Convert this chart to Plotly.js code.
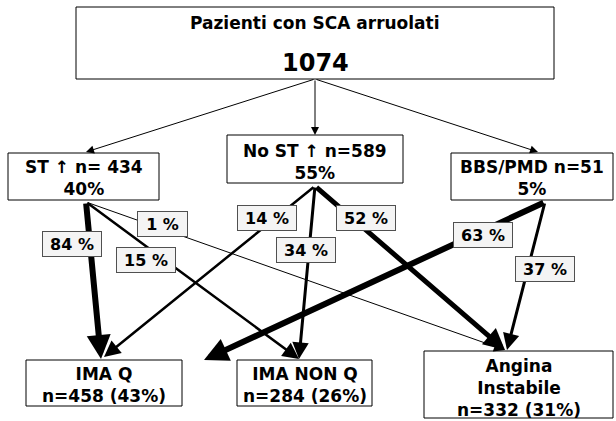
<!DOCTYPE html>
<html>
<head>
<meta charset="utf-8">
<script src="https://cdn.plot.ly/plotly-3.0.1.min.js"></script>
<style>html,body{margin:0;padding:0;background:#fff;}#chart{width:616px;height:421px;}</style>
</head>
<body>
<div id="chart"></div>
<script>
// ---- data ----
var nodeIds = ['root', 'ST', 'NoST', 'BBS', 'IMAQ', 'IMANONQ', 'Angina'];
var nodeLabels = [
  'Pazienti con SCA arruolati',
  'ST \u2191 n= 434<br>40%',
  'No ST \u2191 n=589<br>55%',
  'BBS/PMD n=51<br>5%',
  'IMA Q<br>n=458 (43%)',
  'IMA NON Q<br>n=284 (26%)',
  'Angina<br>Instabile<br>n=332 (31%)'
];
var rootTotal = '1074';
var splitFrom = ['root', 'root', 'root'];
var splitTo = ['ST', 'NoST', 'BBS'];
var edgeFrom = ['ST', 'ST', 'ST', 'NoST', 'NoST', 'NoST', 'BBS', 'BBS'];
var edgeTo = ['IMAQ', 'IMANONQ', 'Angina', 'IMAQ', 'IMANONQ', 'Angina', 'IMAQ', 'Angina'];
var edgePct = [84, 15, 1, 14, 34, 52, 63, 37];

// ---- layout geometry (pixels, y downward) ----
var box = {
  root:    [76, 7, 554, 79],
  ST:      [8, 153, 159, 200],
  NoST:    [227, 135, 403, 183],
  BBS:     [451, 153, 613, 200],
  IMAQ:    [26, 360, 182, 406],
  IMANONQ: [237, 360, 372, 406],
  Angina:  [424, 351, 613, 418]
};
var textY = {root: 23, ST: 177.5, NoST: 161.5, BBS: 177.5, IMAQ: 385, IMANONQ: 385, Angina: 387.5};
var rootTotalY = 63;
var splitStart = [315, 79];
var splitTips = {ST: [86, 152], NoST: [315, 135], BBS: [538, 152]};
var edgeStart = {ST: [86, 202], NoST: [315, 186], BBS: [545, 202]};
var edgeTips = [[101, 359], [299, 359], [505, 350], [104, 357], [299, 359], [505, 350], [204, 360], [507, 350]];
var edgeWidth = [6, 2.5, 1, 2.5, 3, 5, 6, 3];
var edgeHead = [0.8, 1.3, 2.2, 1.3, 1.1, 0.85, 0.8, 1.1];
var labelPos = [[72, 244], [146, 260], [162, 224], [267, 218], [306, 250], [366, 218], [483, 235], [545, 269]];

var FONT = 'DejaVu Sans, Verdana, sans-serif';
var shapes = [];
var annotations = [];

nodeIds.forEach(function (id) {
  var b = box[id];
  shapes.push({type: 'rect', xref: 'x', yref: 'y', x0: b[0], y0: b[1], x1: b[2], y1: b[3],
    line: {color: '#000', width: 1}, fillcolor: '#fff', layer: 'below'});
});

// split arrows from root
splitTo.forEach(function (id) {
  var t = splitTips[id];
  annotations.push({x: t[0], y: t[1], xref: 'x', yref: 'y', ax: splitStart[0], ay: splitStart[1],
    axref: 'x', ayref: 'y', text: '', showarrow: true, arrowhead: 2, arrowsize: 1.6, arrowwidth: 1,
    arrowcolor: '#000', standoff: 0});
});

// outcome arrows
edgePct.forEach(function (p, i) {
  var s = edgeStart[edgeFrom[i]], t = edgeTips[i];
  annotations.push({x: t[0], y: t[1], xref: 'x', yref: 'y', ax: s[0], ay: s[1],
    axref: 'x', ayref: 'y', text: '', showarrow: true, arrowhead: 2, arrowsize: edgeHead[i],
    arrowwidth: edgeWidth[i], arrowcolor: '#000', standoff: 0});
});

// edge labels
edgePct.forEach(function (p, i) {
  var l = labelPos[i];
  annotations.push({x: l[0], y: l[1], xref: 'x', yref: 'y', text: p + ' %', showarrow: false,
    font: {family: FONT, size: 16, color: '#000', weight: 'bold'},
    width: p < 10 ? 45 : 54, height: 20,
    bgcolor: '#f4f4f4', bordercolor: '#505050', borderwidth: 1, borderpad: 2});
});

// node texts
nodeIds.forEach(function (id, i) {
  var b = box[id];
  annotations.push({x: (b[0] + b[2]) / 2, y: textY[id], xref: 'x', yref: 'y', text: nodeLabels[i],
    showarrow: false, font: {family: FONT, size: 17, color: '#000', weight: 'bold'}});
});
annotations.push({x: (box.root[0] + box.root[2]) / 2, y: rootTotalY, xref: 'x', yref: 'y', text: rootTotal,
  showarrow: false, font: {family: FONT, size: 24, color: '#000', weight: 'bold'}});

var layout = {
  width: 616, height: 421,
  margin: {l: 0, r: 0, t: 0, b: 0},
  paper_bgcolor: '#fff', plot_bgcolor: '#fff',
  xaxis: {range: [0, 616], visible: false, fixedrange: true},
  yaxis: {range: [421, 0], visible: false, fixedrange: true},
  showlegend: false,
  shapes: shapes,
  annotations: annotations
};
Plotly.newPlot('chart', [], layout, {staticPlot: true, displayModeBar: false});
</script>
</body>
</html>
